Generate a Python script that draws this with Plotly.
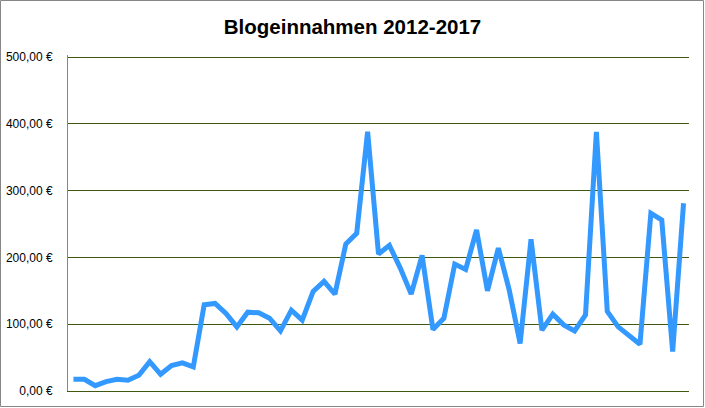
import plotly.graph_objects as go

title = "Blogeinnahmen 2012-2017"
values = [17.5, 17.5, 8, 14, 17.5, 16, 23.5, 44, 25, 38, 42, 36,
          129, 131, 116, 96, 118, 117, 109, 90, 121,
          106, 149, 164, 145, 220, 236, 388, 205, 218, 184, 145, 203, 92, 109, 190, 182, 241, 150, 214,
          151, 71, 227, 91, 115, 99, 90, 114, 388, 119, 96, 82, 70, 266, 256, 59, 281]
x_idx = list(range(len(values)))
tick_vals = [0, 100, 200, 300, 400, 500]
tick_text = ["0,00 €", "100,00 €", "200,00 €", "300,00 €", "400,00 €", "500,00 €"]

grid_color = "#3f5a10"

fig = go.Figure()
fig.add_trace(go.Scatter(x=x_idx, y=values, mode="lines",
                         line=dict(color="#3399ff", width=5),
                         hoverinfo="y"))

W, H = 705, 408
ml, mr, mt, mb = 68, 16, 55, 17
pw, ph = W - ml - mr, H - mt - mb

fig.update_layout(
    width=W, height=H,
    margin=dict(l=ml, r=mr, t=mt, b=mb, autoexpand=False),
    paper_bgcolor="white", plot_bgcolor="white",
    showlegend=False,
    title=dict(text="<b>" + title + "</b>", x=0.5, xanchor="center",
               y=1 - 27 / H, yanchor="middle",
               font=dict(family="Liberation Sans", size=20.5, color="black")),
    xaxis=dict(range=[-0.5, len(values) - 0.5], showgrid=False, zeroline=False,
               showticklabels=False, ticks="", showline=True,
               linecolor=grid_color, linewidth=1),
    yaxis=dict(range=[0, 503], tickvals=tick_vals, ticktext=tick_text,
               showgrid=True, gridcolor=grid_color, gridwidth=1,
               zeroline=False, showline=True, linecolor="#868686", linewidth=1,
               ticks="", ticklabelstandoff=12, automargin=False,
               tickfont=dict(family="Liberation Sans", size=12, color="black")),
    shapes=[dict(type="rect", xref="paper", yref="paper",
                 x0=(-ml + 0.5) / pw, x1=1 + (mr - 1.5) / pw,
                 y0=(-mb + 1.5) / ph, y1=1 + (mt - 0.5) / ph,
                 line=dict(color="#868686", width=1), fillcolor="rgba(0,0,0,0)")],
)

fig.write_html("out.html", config={"displayModeBar": False},
               post_script="document.body.style.margin='0';document.body.style.padding='0';")
